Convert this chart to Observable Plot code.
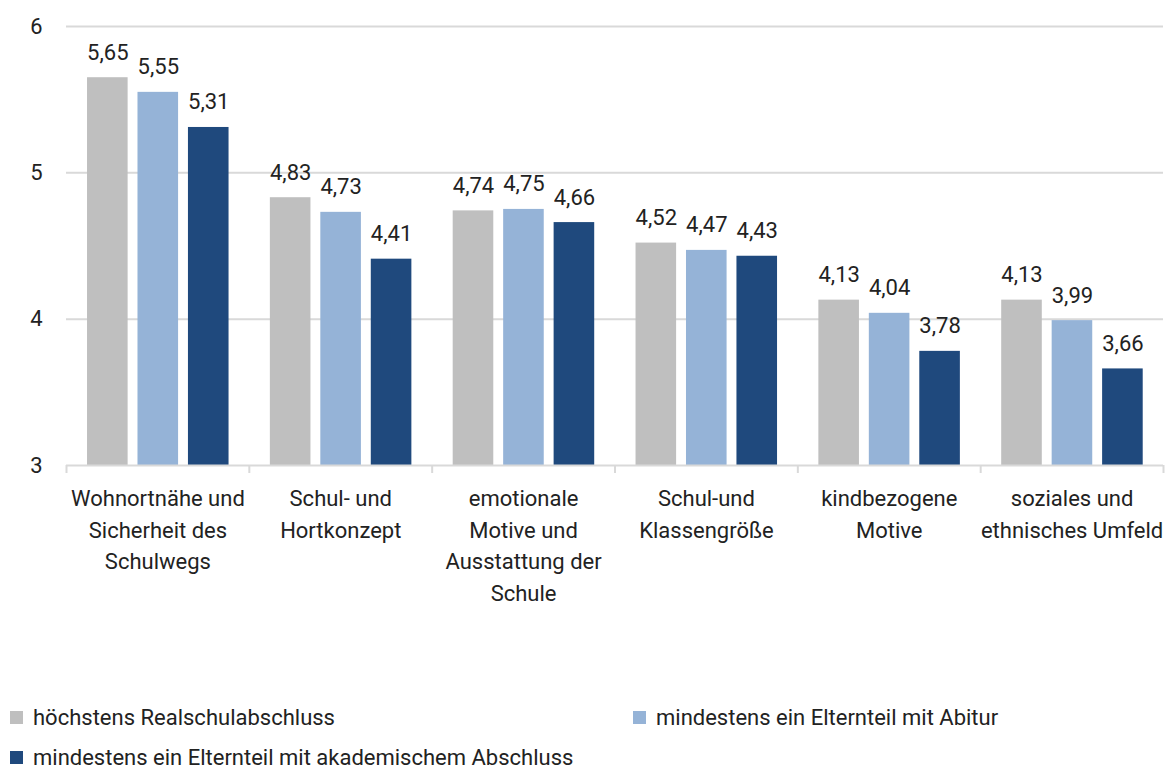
<!DOCTYPE html>
<html>
<head>
<meta charset="utf-8">
<script src="https://cdn.jsdelivr.net/npm/d3@7"></script>
<script src="https://cdn.jsdelivr.net/npm/@observablehq/plot@0.6"></script>
<style>
  html, body { margin: 0; padding: 0; background: #fff; overflow: hidden; }
  body { width: 1172px; height: 769px; font-family: Roboto, sans-serif; color: #222; }
  #legend { display: grid; grid-template-columns: 623px auto; padding-left: 10px; font-size: 22px; }
  #legend .item { display: flex; align-items: center; height: 40px; white-space: nowrap; }
  #legend .sw { width: 13px; height: 13px; margin-right: 10px; flex: none; }
</style>
</head>
<body>
<div id="chart"></div>
<div id="legend"></div>
<script>
const categories = [
  "Wohnortnähe und Sicherheit des Schulwegs",
  "Schul- und Hortkonzept",
  "emotionale Motive und Ausstattung der Schule",
  "Schul-und Klassengröße",
  "kindbezogene Motive",
  "soziales und ethnisches Umfeld"
];
const categoryLabels = [
  "Wohnortnähe und\nSicherheit des\nSchulwegs",
  "Schul- und\nHortkonzept",
  "emotionale\nMotive und\nAusstattung der\nSchule",
  "Schul-und\nKlassengröße",
  "kindbezogene\nMotive",
  "soziales und\nethnisches Umfeld"
];
const seriesNames = [
  "höchstens Realschulabschluss",
  "mindestens ein Elternteil mit Abitur",
  "mindestens ein Elternteil mit akademischem Abschluss"
];
const realschul = [5.65, 4.83, 4.74, 4.52, 4.13, 4.13];
const abitur = [5.55, 4.73, 4.75, 4.47, 4.04, 3.99];
const akademisch = [5.31, 4.41, 4.66, 4.43, 3.78, 3.66];
const yTicks = [3, 4, 5, 6];
const colors = ["#bfbfbf", "#95b3d7", "#1f497d"];

const seriesValues = [realschul, abitur, akademisch];
// layout within each category slot (fractions of one slot)
const barOffset = 0.115, barStep = 0.276, barWidth = 0.222;

const rows = categories.flatMap((c, i) => seriesValues.map((vals, j) => ({
  category: c,
  index: i,
  series: seriesNames[j],
  sj: j,
  value: vals[i]
})));

const fmt = v => v.toFixed(2).replace(".", ",");
const font = 'Roboto, sans-serif';

const chart = Plot.plot({
  width: 1172,
  height: 697,
  marginLeft: 66,
  marginRight: 9,
  marginTop: 26,
  marginBottom: 232,
  style: { fontFamily: font, fontSize: "22px", color: "#222", background: "#fff" },
  x: { type: "linear", domain: [0, categories.length] },
  y: { domain: [3, 6] },
  color: { domain: seriesNames, range: colors },
  marks: [
    Plot.gridY(yTicks.filter(t => t > 3), { stroke: "#d9d9d9", strokeOpacity: 1, strokeWidth: 2 }),
    Plot.axisY(yTicks, { tickSize: 0, tickPadding: 24, fontSize: 22, label: null, tickFormat: d => String(d) }),
    Plot.rectY(rows, {
      x1: d => d.index + barOffset + d.sj * barStep,
      x2: d => d.index + barOffset + d.sj * barStep + barWidth,
      y1: 3,
      y2: "value",
      fill: "series"
    }),
    Plot.ruleY([3], { stroke: "#d9d9d9", strokeWidth: 2 }),
    Plot.axisX(d3.range(categories.length + 1), { tickSize: 8, tickFormat: () => "", stroke: "#d9d9d9", strokeWidth: 2, label: null }),
    Plot.text(rows, {
      x: d => d.index + barOffset + d.sj * barStep + barWidth / 2,
      y: "value",
      text: d => fmt(d.value),
      lineAnchor: "bottom",
      dy: -18,
      fontSize: 22,
      fill: "#222"
    }),
    Plot.text(categories, {
      x: (d, i) => i + 0.5,
      y: () => 3,
      text: (d, i) => categoryLabels[i],
      lineAnchor: "top",
      dy: 18,
      lineHeight: 1.44,
      fontSize: 22,
      fill: "#222"
    })
  ]
});
document.getElementById("chart").appendChild(chart);

const legend = document.getElementById("legend");
seriesNames.forEach((name, j) => {
  const item = document.createElement("div");
  item.className = "item";
  const sw = document.createElement("span");
  sw.className = "sw";
  sw.style.background = colors[j];
  item.appendChild(sw);
  item.appendChild(document.createTextNode(name));
  legend.appendChild(item);
});
</script>
</body>
</html>
